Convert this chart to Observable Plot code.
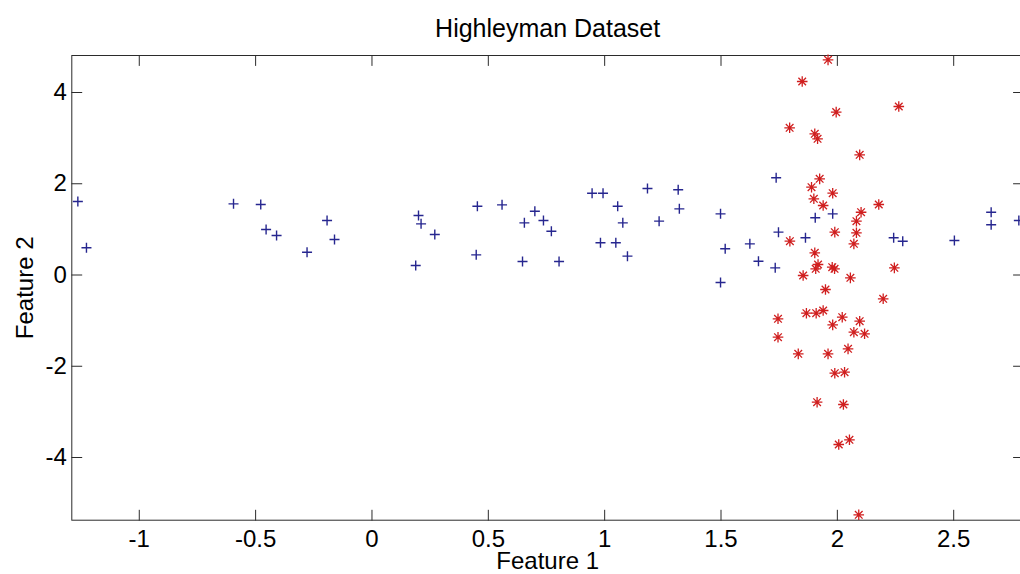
<!DOCTYPE html>
<html>
<head>
<meta charset="utf-8">
<script src="https://cdn.jsdelivr.net/npm/d3@7"></script>
<script src="https://cdn.jsdelivr.net/npm/@observablehq/plot@0.6"></script>
<style>
  html, body { margin: 0; padding: 0; background: #fff; overflow: hidden; }
  #chart svg { display: block; max-width: none; }
</style>
</head>
<body>
<div id="chart"></div>
<script>
// ---- data ----
const titleText = "Highleyman Dataset";
const xLabel = "Feature 1";
const yLabel = "Feature 2";

// class 1 (blue "+")
const blueX = [-1.264, -1.227, -0.595, -0.478, -0.455, -0.410, -0.279, -0.193, -0.161,
  0.200, 0.211, 0.270, 0.188, 0.453, 0.559, 0.448, 0.700, 0.655, 0.737, 0.771, 0.647, 0.804,
  0.946, 0.993, 1.056, 1.078, 0.982, 1.048, 1.098, 1.184, 1.234, 1.316, 1.321,
  1.498, 1.518, 1.498, 1.737, 1.624, 1.661, 1.733, 1.747, 1.863, 1.905, 1.980,
  2.242, 2.281, 2.503, 2.661, 2.661, 2.780];
const blueY = [1.61, 0.596, 1.56, 1.545, 0.997, 0.866, 0.50, 1.195, 0.778,
  1.304, 1.121, 0.888, 0.208, 1.508, 1.538, 0.442, 1.399, 1.143, 1.194, 0.96, 0.296, 0.296,
  1.793, 1.793, 1.508, 1.143, 0.706, 0.706, 0.413, 1.896, 1.18, 1.867, 1.45,
  1.34, 0.574, -0.164, 2.13, 0.683, 0.303, 0.157, 0.939, 0.815, 1.254, 1.34,
  0.815, 0.741, 0.756, 1.376, 1.10, 1.195];

// class 2 (red "*")
const redX = [1.960, 1.849, 2.264, 1.995, 1.795, 1.903, 1.915, 2.096, 1.924, 1.889,
  1.980, 1.899, 1.939, 2.178, 2.102, 2.082, 2.082, 2.071, 1.989, 1.796,
  1.903, 1.917, 1.907, 1.978, 1.988, 1.853, 2.056, 2.245, 1.949, 2.197,
  1.745, 1.867, 1.909, 1.939, 2.021, 2.096, 1.980, 2.071, 2.117, 1.745,
  1.832, 1.960, 2.046, 1.989, 2.031, 1.913, 2.026, 2.006, 2.052, 2.092];
const redY = [4.716, 4.241, 3.693, 3.57, 3.226, 3.094, 2.985, 2.634, 2.108, 1.925,
  1.793, 1.67, 1.523, 1.545, 1.376, 1.18, 0.925, 0.683, 0.939, 0.741,
  0.486, 0.23, 0.136, 0.171, 0.136, -0.011, -0.062, 0.157, -0.318, -0.522,
  -0.96, -0.837, -0.837, -0.778, -0.925, -1.012, -1.092, -1.253, -1.289, -1.363,
  -1.728, -1.728, -1.618, -2.152, -2.13, -2.788, -2.838, -3.715, -3.612, -5.256];

const xTicks = [-1, -0.5, 0, 0.5, 1, 1.5, 2, 2.5];
const yTicks = [-4, -2, 0, 2, 4];
const xDomain = [-1.290, 2.800];
const yDomain = [-5.374, 4.811];

// ---- build tables ----
const blue = blueX.map((x, i) => ({x, y: blueY[i]}));
const red = redX.map((x, i) => ({x, y: redY[i]}));

// ---- marker shapes (MATLAB-like) ----
const plusSymbol = {
  draw(ctx, size) {
    const r = Math.sqrt(size / Math.PI);
    ctx.moveTo(-r, 0); ctx.lineTo(r, 0);
    ctx.moveTo(0, -r); ctx.lineTo(0, r);
  }
};
const starSymbol = {
  draw(ctx, size) {
    const r = Math.sqrt(size / Math.PI);
    const d = r * 0.72;
    ctx.moveTo(-r, 0); ctx.lineTo(r, 0);
    ctx.moveTo(0, -r); ctx.lineTo(0, r);
    ctx.moveTo(-d, -d); ctx.lineTo(d, d);
    ctx.moveTo(-d, d); ctx.lineTo(d, -d);
  }
};
const tickShape = {
  draw(ctx, l) { ctx.moveTo(0, 0); ctx.lineTo(0, -l); }
};

const fmt = d => String(d);
const axisColor = "#2b2b2b";
const font = "'Liberation Sans', Arial, Helvetica, sans-serif";

const chart = Plot.plot({
  width: 1020,
  height: 574,
  marginLeft: 71.3,
  marginRight: -3,
  marginTop: 55,
  marginBottom: 54.3,
  style: {fontFamily: font, fontSize: "24px", color: "#000", background: "#fff", overflow: "hidden"},
  x: {domain: xDomain, ticks: xTicks, tickFormat: fmt, tickSize: 0, tickPadding: 10, label: null},
  y: {domain: yDomain, ticks: yTicks, tickFormat: fmt, tickSize: 0, tickPadding: 5, label: null},
  marks: [
    Plot.frame({stroke: axisColor, strokeWidth: 1}),
    // inward tick marks on all four sides
    Plot.vector(xTicks, {x: d => d, frameAnchor: "bottom", rotate: 0, length: 10, anchor: "start", shape: tickShape, stroke: axisColor, strokeWidth: 1}),
    Plot.vector(xTicks, {x: d => d, frameAnchor: "top", rotate: 180, length: 10, anchor: "start", shape: tickShape, stroke: axisColor, strokeWidth: 1}),
    Plot.vector(yTicks, {y: d => d, frameAnchor: "left", rotate: 90, length: 10, anchor: "start", shape: tickShape, stroke: axisColor, strokeWidth: 1}),
    Plot.vector(yTicks, {y: d => d, frameAnchor: "right", rotate: -90, length: 10, anchor: "start", shape: tickShape, stroke: axisColor, strokeWidth: 1}),
    // data
    Plot.dot(blue, {x: "x", y: "y", symbol: plusSymbol, r: 5, fill: "none", stroke: "#26268f", strokeWidth: 1.4}),
    Plot.dot(red, {x: "x", y: "y", symbol: starSymbol, r: 5.3, fill: "none", stroke: "#d01f1f", strokeWidth: 1.3}),
    // title & axis labels
    Plot.text([titleText], {frameAnchor: "top", textAnchor: "middle", lineAnchor: "middle", dy: -27, fontSize: 25, fill: "#000"}),
    Plot.text([xLabel], {frameAnchor: "bottom", textAnchor: "middle", lineAnchor: "middle", dy: 41, fontSize: 24, fill: "#000"}),
    Plot.text([yLabel], {frameAnchor: "left", textAnchor: "middle", lineAnchor: "middle", dx: -46, rotate: -90, fontSize: 24, fill: "#000"})
  ]
});
document.getElementById("chart").appendChild(chart);
</script>
</body>
</html>
